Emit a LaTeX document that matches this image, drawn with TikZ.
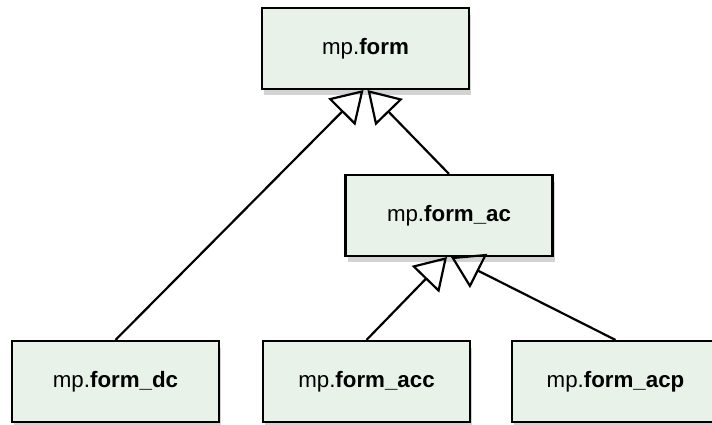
\documentclass[tikz,border=0pt]{standalone}
\usepackage{fontspec}
\setmainfont{Liberation Sans}
\usetikzlibrary{arrows.meta,shadows}
\definecolor{boxfill}{HTML}{E9F2E9}

\begin{document}
\begin{tikzpicture}[x=0.02cm, y=-0.02cm,
                    cls/.style={draw, fill=boxfill, line width=1.2pt,
                                minimum width=4.14cm, minimum height=1.62cm,
                                font=\fontsize{12.7}{15}\selectfont,
                                drop shadow={shadow xshift=0.25ex, shadow yshift=-0.7ex,
                                             opacity=0.35}},
                    inherit/.style={-{Triangle[open, length=0.62cm, width=0.76cm]},
                                    line width=1.25pt}]
    \useasboundingbox (0,0) rectangle (712,425);
    \clip (0,0) rectangle (712,425);

    % classes
    \node[cls] (form) at (365.5,48.5) {mp.\textbf{form}};
    \node[cls] (formAc) at (449,215.5) {mp.\textbf{form\_ac}};
    \node[cls] (formDc) at (115.5,381.5) {mp.\textbf{form\_dc}};
    \node[cls] (formAcc) at (366.5,381.5) {mp.\textbf{form\_acc}};
    \node[cls] (formAcp) at (615.5,381.5) {mp.\textbf{form\_acp}};

    % inheritance
    \draw[inherit] (formDc.north) -- ([xshift=-0.04cm]form.south);
    \draw[inherit] (formAc.north) -- ([xshift=0.04cm]form.south);
    \draw[inherit] (formAcc.north) -- ([xshift=-0.04cm]formAc.south);
    \draw[inherit] (formAcp.north) -- ([xshift=0.04cm]formAc.south);
\end{tikzpicture}
\end{document}
